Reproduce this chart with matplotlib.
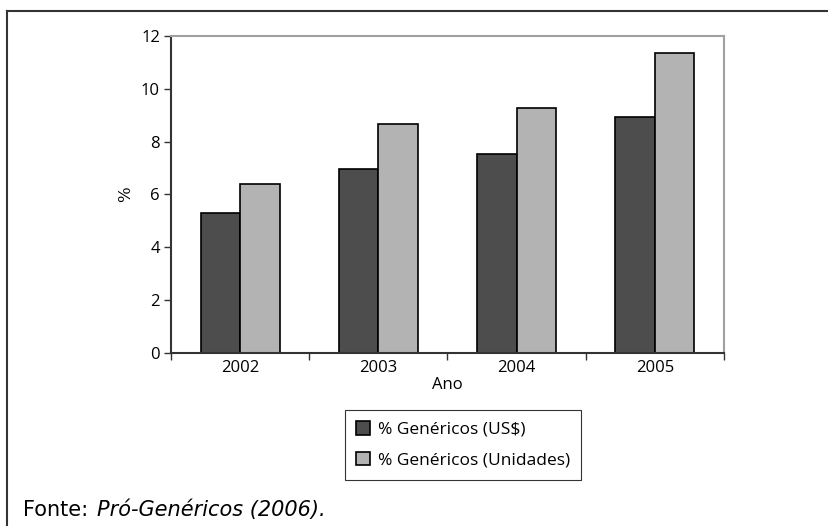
import matplotlib
matplotlib.use('Agg')
import matplotlib.pyplot as plt
import numpy as np
from matplotlib.lines import Line2D

# Participação dos genéricos no mercado farmacêutico
anos = ['2002', '2003', '2004', '2005']
gen_valor = [5.3, 6.97, 7.55, 8.95]        # % Genéricos (US$)
gen_unidades = [6.4, 8.67, 9.28, 11.35]    # % Genéricos (Unidades)

plt.rcParams['font.family'] = ['Open Sans', 'DejaVu Sans']

fig = plt.figure(figsize=(8.29, 5.26), dpi=100)
ax = fig.add_axes([0.2063, 0.3289, 0.667, 0.6027])

x = np.arange(len(anos))
w = 0.285
ax.bar(x - w / 2, gen_valor, w, color='#4d4d4d', edgecolor='black',
       linewidth=1.2, label='% Genéricos (US$)')
ax.bar(x + w / 2, gen_unidades, w, color='#b3b3b3', edgecolor='black',
       linewidth=1.2, label='% Genéricos (Unidades)')

ax.set_xlim(-0.5, len(anos) - 0.5)
ax.set_ylim(0, 12)
ax.set_yticks(range(0, 13, 2))
ax.set_xticks(x)
ax.set_xticklabels(anos)
# ticks de separação entre categorias
ax.set_xticks(np.arange(-0.5, len(anos)), minor=True)
ax.tick_params(axis='x', which='major', length=0, labelsize=12, pad=5)
ax.tick_params(axis='x', which='minor', length=5, width=1, color='#333333', direction='out')
ax.tick_params(axis='y', length=5, width=1, color='#333333', labelsize=12, pad=3)

for s in ['top', 'right']:
    ax.spines[s].set_color('#a0a0a0')
    ax.spines[s].set_linewidth(1.5)
for s in ['left', 'bottom']:
    ax.spines[s].set_color('#333333')
    ax.spines[s].set_linewidth(1.5)

ax.set_xlabel('Ano', fontsize=12, labelpad=1)
ax.set_ylabel('%', fontsize=12, family='DejaVu Serif', labelpad=5)

leg = fig.legend(loc='upper left', bbox_to_anchor=(345 / 829, 1 - 410 / 526),
                 fontsize=12.5, frameon=True, fancybox=False, edgecolor='black',
                 handlelength=0.8, handleheight=0.8, handletextpad=0.45,
                 borderpad=0.65, labelspacing=0.8, borderaxespad=0)
leg.get_frame().set_linewidth(0.8)

fig.text(23 / 829, 1 - 516 / 526, 'Fonte:', fontsize=15,
         family='DejaVu Sans', va='baseline')
fig.text(97 / 829, 1 - 516 / 526, 'Pró-Genéricos (2006).', fontsize=15,
         family='DejaVu Sans', style='italic', va='baseline')

# moldura
fig.add_artist(Line2D([7 / 829, 1], [1 - 11 / 526, 1 - 11 / 526],
                      color='#333333', linewidth=1.5))
fig.add_artist(Line2D([7 / 829, 7 / 829], [0, 1 - 11 / 526],
                      color='#333333', linewidth=1.5))

fig.savefig('out.png', dpi=100)
